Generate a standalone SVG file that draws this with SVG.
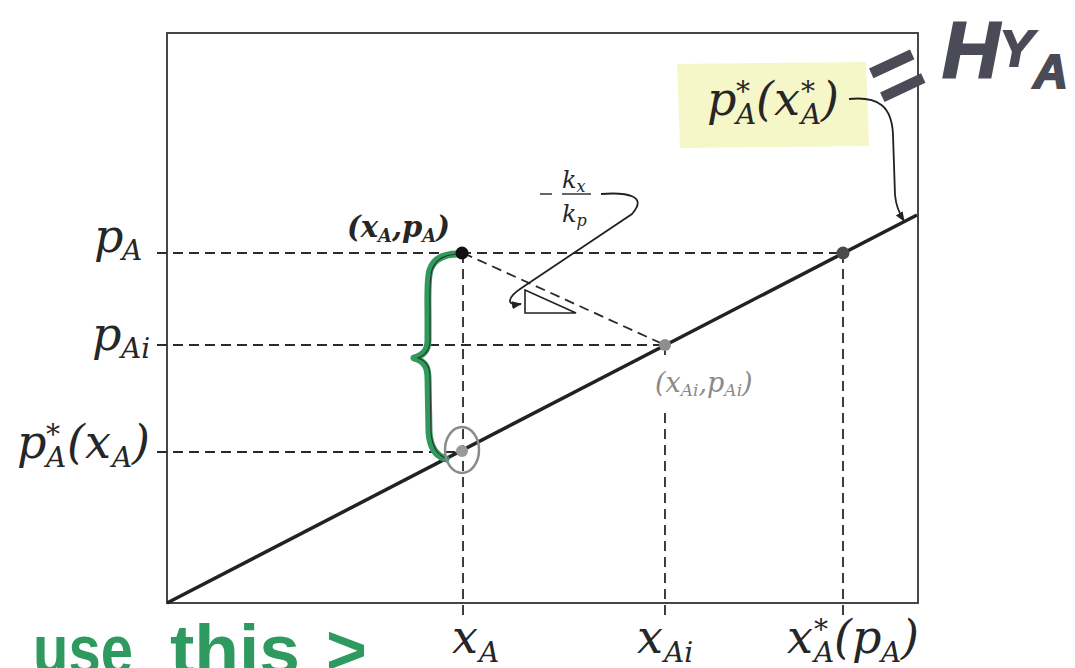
<svg xmlns="http://www.w3.org/2000/svg" width="1075" height="668" viewBox="0 0 1075 668">
<defs>
<marker id="ah" markerWidth="12" markerHeight="12" refX="9" refY="5" orient="auto" markerUnits="userSpaceOnUse"><path d="M0,1 L10,5 L0,9 Z" fill="#222"/></marker>
</defs>
<style>
.m{font-family:"DejaVu Serif","Liberation Serif",serif;font-style:italic;fill:#262626}
.L{font-size:46px}
.s{font-size:28px}
.dash{stroke:#2a2a2a;stroke-width:1.8;stroke-dasharray:10 6;fill:none}
.hand{font-family:"Liberation Sans","DejaVu Sans",sans-serif;font-weight:bold}
</style>
<rect width="1075" height="668" fill="#ffffff"/>

<g id="highlight"><path d="M677,64 L866,62 L869,146 L680,148 Z" fill="#f6f7c9"/></g>

<g id="frame"><rect x="167" y="33" width="751" height="570" fill="none" stroke="#333" stroke-width="1.8"/></g>

<g id="guides">
<line class="dash" x1="157" y1="253" x2="843" y2="253"/>
<line class="dash" x1="157" y1="345" x2="665" y2="345"/>
<line class="dash" x1="157" y1="452" x2="462" y2="452"/>
<line class="dash" x1="463" y1="253" x2="463" y2="616"/>
<line class="dash" x1="665" y1="345" x2="665" y2="359"/>
<line class="dash" x1="665" y1="413" x2="665" y2="616"/>
<line class="dash" x1="843" y1="253" x2="843" y2="616"/>
<line class="dash" x1="463" y1="253" x2="665" y2="345"/>
</g>

<g id="curve"><line x1="167" y1="603" x2="917" y2="215" stroke="#222" stroke-width="3.5"/></g>

<g id="brace">
<path d="M458,254 C445,254 434,258 430,270 C427,280 428,295 428,320 L428,340 C428,350 424,355 414,358 C424,361 428,366 428,378 L429,432 C430,448 436,456 446,459" fill="none" stroke="#2f9a5c" stroke-width="7" stroke-linecap="round" stroke-linejoin="round"/>
<path d="M460,254 C447,254 436,258 432,270 C429,280 430,295 430,320 L430,340 C430,350 426,355 418,358 C426,361 430,366 430,378 L431,432 C432,448 438,456 448,459" fill="none" stroke="#333" stroke-width="1.1"/>
</g>

<g id="points">
<ellipse cx="462" cy="450" rx="17" ry="23" fill="none" stroke="#8a8a8a" stroke-width="2.5"/>
<circle cx="462" cy="253" r="6.5" fill="#111"/>
<circle cx="843" cy="253" r="6.5" fill="#4a4a4a"/>
<circle cx="665" cy="345" r="6" fill="#8e8e8e"/>
<circle cx="462" cy="451" r="6" fill="#9a9a9a"/>
</g>

<g id="slope">
<path d="M525,290 L525,313 L576,313 Z" fill="none" stroke="#222" stroke-width="1.6"/>
<line x1="540" y1="194" x2="552" y2="194" stroke="#333" stroke-width="1.5"/>
<line x1="562" y1="194" x2="591" y2="194" stroke="#333" stroke-width="1.5"/>
<text class="m" font-size="24" x="562" y="188">k<tspan font-size="16" dy="4">x</tspan></text>
<text class="m" font-size="24" x="562" y="222">k<tspan font-size="16" dy="4">p</tspan></text>
</g>

<g id="connectors" fill="none" stroke="#222" stroke-width="1.8">
<path d="M849,99 C878,96 892,106 893,135 L895,195 C896,206 899,213 904,221" marker-end="url(#ah)"/>
<path d="M601,194 C628,192 648,196 632,214 L523,287 C506,298 506,306 521,304" marker-end="url(#ah)"/>
</g>

<g id="ylabels">
<text class="m L" x="94" y="252">p</text><text class="m s" x="122" y="260">A</text>
<text class="m L" x="92" y="350">p</text><text class="m s" x="121" y="358">Ai</text>
<text class="m L" x="17" y="458">p</text><text class="m s" x="46" y="444">*</text><text class="m s" x="46" y="467">A</text><text class="m L" x="67" y="458">(x</text><text class="m s" x="112" y="467">A</text><text class="m L" x="132" y="458">)</text>
</g>

<g id="xlabels">
<text class="m L" x="452" y="653">x</text><text class="m s" x="479" y="662">A</text>
<text class="m L" x="637" y="653">x</text><text class="m s" x="664" y="662">Ai</text>
<text class="m L" x="787" y="653">x</text><text class="m s" x="814" y="639">*</text><text class="m s" x="814" y="662">A</text><text class="m L" x="834" y="653">(p</text><text class="m s" x="881" y="662">A</text><text class="m L" x="901" y="653">)</text>
</g>

<g id="toplabel">
<text class="m L" x="707" y="115">p</text><text class="m s" x="736" y="101">*</text><text class="m s" x="736" y="124">A</text><text class="m L" x="756" y="115">(x</text><text class="m s" x="801" y="101">*</text><text class="m s" x="801" y="124">A</text><text class="m L" x="821" y="115">)</text>
</g>

<g id="pointlabels">
<text class="m" font-size="29" font-weight="bold" x="347" y="237">(x<tspan font-size="18" dy="5">A</tspan><tspan dy="-5">,p</tspan><tspan font-size="18" dy="5">A</tspan><tspan dy="-5">)</tspan></text>
<text class="m" font-size="27" style="fill:#8a8a8a" x="655" y="392">(x<tspan font-size="17" dy="4">Ai</tspan><tspan dy="-4">,p</tspan><tspan font-size="17" dy="4">Ai</tspan><tspan dy="-4">)</tspan></text>
</g>

<g id="handwriting">
<text class="hand" font-size="72" fill="#4b4b58" text-anchor="middle" transform="translate(896,73) rotate(-25) scale(1.25,1.35)" y="26">=</text>
<text class="hand" font-style="italic" font-weight="normal" fill="#4b4b58" stroke="#4b4b58" stroke-width="2" x="942" y="78" font-size="80">H<tspan font-size="50" dy="-12">Y</tspan><tspan font-size="48" dy="22">A</tspan></text>
<text class="hand" fill="#2e9a5f" x="33" y="674" font-size="70" textLength="100" lengthAdjust="spacingAndGlyphs">use</text>
<text class="hand" fill="#2e9a5f" x="170" y="674" font-size="70" textLength="130" lengthAdjust="spacingAndGlyphs">this</text>
<text class="hand" fill="#2e9a5f" x="326" y="674" font-size="70">&gt;</text>
</g>
</svg>
